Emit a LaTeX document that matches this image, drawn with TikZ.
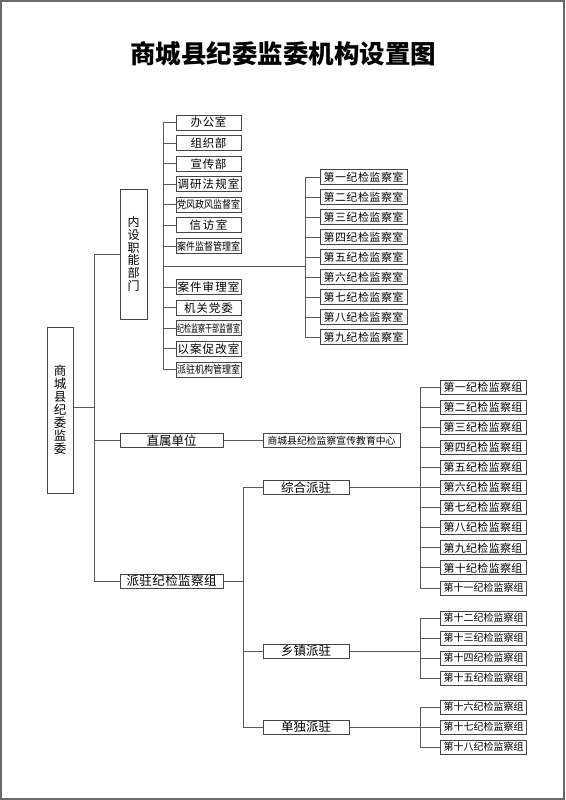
\documentclass[tikz,border=0pt]{standalone}
\usepackage{fontspec}
\usepackage{graphicx}
\setmainfont{Noto Sans CJK SC}
\definecolor{boxc}{HTML}{454545}
\definecolor{linec}{HTML}{5A5A5A}
\definecolor{framec}{HTML}{6A6A6A}
\def\spreadaux#1#2{#1\ifx\relax#2\else\hfill\expandafter\spreadaux\expandafter#2\fi}
\newcommand\sprd[2]{\makebox[#1][s]{\spreadaux#2\relax}}
\begin{document}
\begin{tikzpicture}[x=1pt,y=-1pt,
  ln/.style={draw=linec, line width=0.9pt},
  bx/.style={draw=boxc, line width=1pt, inner sep=0pt, minimum height=15pt, fill=white,
    font=\fontsize{11.5}{11.5}\selectfont},
  bxa/.style={bx, minimum width=65pt},
  bxb/.style={bx, minimum width=87pt, font=\fontsize{11}{11}\selectfont},
  bxc/.style={bx, minimum width=103pt, font=\fontsize{12.5}{12.5}\selectfont},
  bxd/.style={bx, minimum width=86pt, font=\fontsize{12.5}{12.5}\selectfont},
  bxe/.style={bx, minimum width=86pt, minimum height=14pt, font=\fontsize{11}{11}\selectfont},
  bxf/.style={bxe, font=\fontsize{10}{10}\selectfont},
  bxv/.style={bx, align=center},
]
\useasboundingbox (0,0) rectangle (565,800);
\draw[draw=framec, line width=2pt] (1,1) rectangle (564,799);
\node[font=\fontsize{25.5}{25.5}\selectfont\bfseries] (title) at (283,54) {\sprd{306pt}{商城县纪委监委机构设置图}};

% root and first level
\node[bxv, minimum width=26pt, minimum height=166pt, font=\fontsize{12.5}{13}\selectfont] (root) at (60,410) {商\\城\\县\\纪\\委\\监\\委};
\node[bxv, minimum width=27pt, minimum height=130pt, font=\fontsize{12}{12.8}\selectfont] (nsz) at (133.5,254) {内\\设\\职\\能\\部\\门};
\node[bxc, minimum height=14pt] (zs) at (171.5,440.5) {\sprd{50pt}{直属单位}};
\node[bxc, minimum height=14pt] (pz) at (171.5,581) {\sprd{90pt}{派驻纪检监察组}};

\coordinate (mb) at (94,407);
\draw[ln] (root.east |- mb) -- (mb);
\draw[ln] (mb) |- (nsz.west);
\draw[ln] (mb) |- (zs.west);
\draw[ln] (mb) |- (pz.west);

% internal departments
\node[bxa] (d1) at (208.5,122.5) {\sprd{36pt}{办公室}};
\node[bxa] (d2) at (208.5,143.1) {\sprd{36pt}{组织部}};
\node[bxa] (d3) at (208.5,163.7) {\sprd{36pt}{宣传部}};
\node[bxa] (d4) at (208.5,184.2) {\sprd{62pt}{调研法规室}};
\node[bxa] (d5) at (208.5,204.8) {\scalebox{0.9}[1.05]{\fontsize{10}{10}\selectfont 党风政风监督室}};
\node[bxa] (d6) at (208.5,225.4) {\sprd{38pt}{信访室}};
\node[bxa] (d7) at (208.5,246.0) {\scalebox{0.9}[1.05]{\fontsize{10}{10}\selectfont 案件监督管理室}};
\node[bxa] (d8) at (208.5,287.2) {\sprd{62pt}{案件审理室}};
\node[bxa] (d9) at (208.5,307.8) {\sprd{49pt}{机关党委}};
\node[bxa] (d10) at (208.5,328.3) {\scalebox{0.7}[1.05]{\fontsize{10}{10}\selectfont 纪检监察干部监督室}};
\node[bxa] (d11) at (208.5,348.9) {\sprd{62pt}{以案促改室}};
\node[bxa] (d12) at (208.5,369.5) {\scalebox{0.9}[1.05]{\fontsize{10}{10}\selectfont 派驻机构管理室}};

\coordinate (j2) at (163,266.6);
\foreach \i in {1,...,12} { \draw[ln] (j2) |- (d\i.west); }

% discipline inspection offices
\coordinate (j3) at (305,266.6);
\draw[ln] (j2) -- (j3);
\foreach \t [count=\i] in {一,二,三,四,五,六,七,八,九} {
  \node[bxb] (s\i) at (363.5,{157+20*\i}) {\sprd{80pt}{第\t 纪检监察室}};
  \draw[ln] (j3) |- (s\i.west);
}

% directly affiliated unit
\node[bx, minimum width=137pt, minimum height=14pt, font=\fontsize{9.8}{9.8}\selectfont] (jy) at (331.5,440.5) {\sprd{128pt}{商城县纪检监察宣传教育中心}};
\draw[ln] (zs.east) -- (jy.west);

% dispatched groups
\node[bxd, minimum height=14pt] (zh) at (306,487.5) {\sprd{50pt}{综合派驻}};
\node[bxd, minimum height=14pt] (xz) at (306,651) {\sprd{50pt}{乡镇派驻}};
\node[bxd, minimum height=14pt] (dd) at (306,727) {\sprd{50pt}{单独派驻}};
\coordinate (jp) at (243,581);
\draw[ln] (pz.east) -- (jp);
\draw[ln] (jp) |- (zh.west);
\draw[ln] (jp) |- (xz.west);
\draw[ln] (jp) |- (dd.west);

\coordinate (jz) at (420,487.5);
\coordinate (jx) at (420,651);
\coordinate (jd) at (420,727);
\draw[ln] (zh.east) -- (jz);
\draw[ln] (xz.east) -- (jx);
\draw[ln] (dd.east) -- (jd);

\foreach \t [count=\i] in {一,二,三,四,五,六,七,八,九,十} {
  \node[bxe] (g\i) at (483,{366.9+20.1*\i}) {\sprd{79pt}{第\t 纪检监察组}};
  \draw[ln] (jz) |- (g\i.west);
}
\node[bxf] (g11) at (483,588) {\sprd{79pt}{第十一纪检监察组}};
\draw[ln] (jz) |- (g11.west);

\foreach \t [count=\i] in {二,三,四,五} {
  \node[bxf] (h\i) at (483,{598+20*\i}) {\sprd{79pt}{第十\t 纪检监察组}};
  \draw[ln] (jx) |- (h\i.west);
}
\foreach \t [count=\i] in {六,七,八} {
  \node[bxf] (k\i) at (483,{687+20*\i}) {\sprd{79pt}{第十\t 纪检监察组}};
  \draw[ln] (jd) |- (k\i.west);
}
\end{tikzpicture}
\end{document}
